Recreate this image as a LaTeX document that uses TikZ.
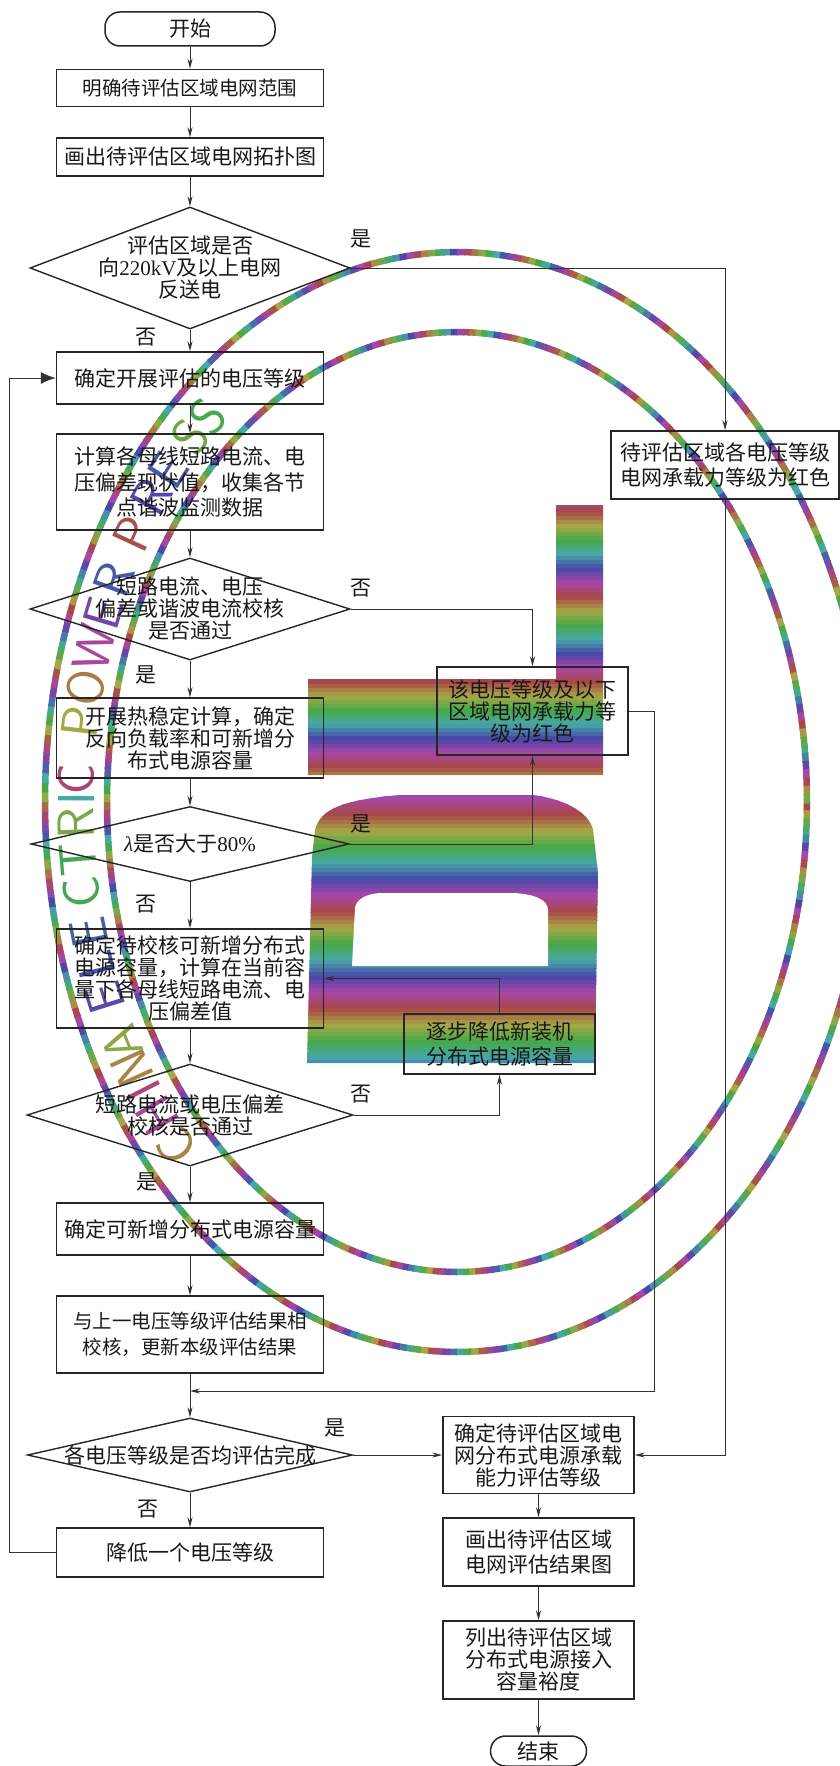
\documentclass[tikz,border=0pt]{standalone}
\usepackage{fontspec}
\setmainfont{Liberation Serif}
\newfontfamily\cjk{Noto Sans CJK SC}
\usetikzlibrary{shapes.geometric,arrows.meta}
\newcommand{\stampcolor}[2]{\convertcolorspec{hsb}{#2,0.58,0.66}{rgb}\stamprgb\definecolor{#1}{rgb}{\stamprgb}}
\tikzset{
    boxfont/.style={font=\cjk\fontsize{21}{22}\selectfont, align=center},
    loose/.style={font=\cjk\fontsize{21}{25.5}\selectfont},
    narrow/.style={font=\cjk\fontsize{19.5}{25.5}\selectfont},
    procbox/.style={draw=black!85, line width=1.5pt, rectangle, inner sep=0pt, boxfont, minimum width=267, text=black!90},
    sidebox/.style={procbox, minimum width=191},
    termbox/.style={procbox, rounded corners=15pt},
    decision/.style={draw=black!85, line width=1.4pt, diamond, inner sep=0pt},
    dtext/.style={boxfont, inner sep=0pt, text=black!90},
    yesno/.style={boxfont, inner sep=0pt, text=black!90},
    link/.style={draw=black!80, line width=1pt, ->},
}
\begin{document}
\begin{tikzpicture}[x=1pt, y=-1pt, >={Stealth[length=10pt,width=5pt]}]

    \useasboundingbox (0,0) rectangle (840,1766);

    % printed stamp behind the chart
    \begin{scope}
        \clip (0,0) rectangle (840,1766);
        \foreach \rx/\ry in {412/550,350/470}
            \foreach \a in {0,1,...,359} {
                \pgfmathsetmacro\ringhue{mod(\a*0.14,1)}
                \stampcolor{ringcol}{\ringhue}
                \draw[ringcol, line width=6.5] ({457+\rx*cos(\a)},{802+\ry*sin(\a)}) -- ({457+\rx*cos(\a+1.2)},{802+\ry*sin(\a+1.2)});
            }
    \end{scope}

    \foreach \ch/\t in {C/222.6,H/218,I/214.5,N/211.5,A/208.2,E/202.6,L/198.7,E/194.9,C/190.2,T/186.5,R/182.4,I/179.6,C/177.5,P/171,O/167,W/162.4,E/158.3,R/154.2,P/148.2,R/143.3,E/139.4,S/134.3,S/130.9} {
        \pgfmathsetmacro\rot{atan2(-510*cos(\t),381*sin(\t))}
        \pgfmathsetmacro\lethue{mod(\t*0.27,1)}
        \stampcolor{letcol}{\lethue}
        \node[text=letcol, font=\sffamily\fontsize{52}{52}\selectfont, rotate=\rot, inner sep=0pt] (stamp\t) at ({457+381*cos(\t)},{802-510*sin(\t)}) {\ch};
    }

    \begin{scope}
        \clip (308,679) -- (556,679) -- (556,505) -- (603,505) -- (603,775) -- (308,775) -- cycle
              (307,1063) -- (312,857) -- (315,830) .. controls (320,810) and (340,800) .. (400,795) -- (533,795) .. controls (570,800) and (590,815) .. (593,830) -- (598,873) -- (595,1063) -- cycle;
        \foreach \y in {500,504,...,1068} {
            \pgfmathsetmacro\bandhue{\y<785 ? mod(\y/85,1) : mod(\y/97+1.62,1)}
            \stampcolor{bandcol}{\bandhue}
            \fill[bandcol] (300,\y) rectangle (610,\y+4.5);
        }
    \end{scope}
    \fill[white] (352,966) -- (548,966) -- (548,910) .. controls (548,900) and (535,894) .. (513,893) -- (380,893) .. controls (365,894) and (356,900) .. (355,908) -- cycle;

    % left column
    \node[termbox, minimum width=170, minimum height=34] (start) at (190,29) {开始};
    \node[procbox, narrow, minimum height=37] (range) at (190,88) {明确待评估区域电网范围};
    \node[procbox, minimum height=38] (topo) at (190,157) {画出待评估区域电网拓扑图};
    \node[decision, minimum width=320, minimum height=122, label={[dtext]center:{评估区域是否\\向{\rmfamily 220kV}及以上电网\\反送电}}] (reverse) at (190,268) {};
    \node[procbox, minimum height=52] (level) at (190,378) {确定开展评估的电压等级};
    \node[procbox, loose, minimum height=96] (calc) at (190,482) {计算各母线短路电流、电\\压偏差现状值，收集各节\\点谐波监测数据};
    \node[decision, minimum width=320, minimum height=102, label={[dtext]center:{短路电流、电压\\偏差或谐波电流校核\\是否通过}}] (check) at (190,609) {};
    \node[procbox, minimum height=80] (thermal) at (190,738) {开展热稳定计算，确定\\反向负载率和可新增分\\布式电源容量};
    \node[decision, minimum width=318, minimum height=75, label={[dtext]center:{{\rmfamily\itshape λ}是否大于{\rmfamily 80\%}}}] (ratio) at (190,844) {};
    \node[procbox, minimum height=99] (trial) at (190,978.5) {确定待校核可新增分布式\\电源容量，计算在当前容\\量下各母线短路电流、电\\压偏差值};
    \node[decision, minimum width=326, minimum height=102, label={[dtext]center:{短路电流或电压偏差\\校核是否通过}}] (recheck) at (190,1115) {};
    \node[procbox, minimum height=52] (amount) at (190,1229) {确定可新增分布式电源容量};
    \node[procbox, narrow, minimum height=77] (update) at (190,1334.5) {与上一电压等级评估结果相\\校核，更新本级评估结果};
    \coordinate (merge) at (190,1391);
    \node[decision, minimum width=325, minimum height=74, label={[dtext]center:{各电压等级是否均评估完成}}] (alldone) at (190,1455) {};
    \node[procbox, minimum height=49] (lower) at (190,1552.5) {降低一个电压等级};

    % right side
    \node[sidebox, loose, minimum width=228, minimum height=68] (allred) at (725,465) {待评估区域各电压等级\\电网承载力等级为红色};
    \node[sidebox, minimum height=88] (levelred) at (532.5,711) {该电压等级及以下\\区域电网承载力等\\级为红色};
    \node[sidebox, loose, minimum height=60] (reduce) at (499.5,1044) {逐步降低新装机\\分布式电源容量};
    \node[sidebox, minimum height=77] (grade) at (538.5,1455) {确定待评估区域电\\网分布式电源承载\\能力评估等级};
    \node[sidebox, loose, minimum height=68] (result) at (538.5,1552) {画出待评估区域\\电网评估结果图};
    \node[sidebox, minimum height=78] (margin) at (538.5,1660) {列出待评估区域\\分布式电源接入\\容量裕度};
    \node[termbox, minimum width=96, minimum height=30] (finish) at (538.5,1751) {结束};

    \node[yesno] (yes1) at (361,239) {是};
    \node[yesno] (no1) at (146,337) {否};
    \node[yesno] (no2) at (361,588) {否};
    \node[yesno] (yes2) at (146,675) {是};
    \node[yesno] (yes3) at (361,824) {是};
    \node[yesno] (no3) at (146,904) {否};
    \node[yesno] (no4) at (361,1094) {否};
    \node[yesno] (yes4) at (147,1182) {是};
    \node[yesno] (yes5) at (335,1428) {是};
    \node[yesno] (no5) at (148,1509) {否};

    \draw[link] (start) -- (range);
    \draw[link] (range) -- (topo);
    \draw[link] (topo) -- (reverse);
    \draw[link] (reverse) -- (level);
    \draw[link] (level) -- (calc);
    \draw[link] (calc) -- (check);
    \draw[link] (check) -- (thermal);
    \draw[link] (thermal) -- (ratio);
    \draw[link] (ratio) -- (trial);
    \draw[link] (trial) -- (recheck);
    \draw[link] (recheck) -- (amount);
    \draw[link] (amount) -- (update);
    \draw[link] (update) -- (alldone);
    \draw[link] (alldone) -- (lower);
    \draw[link, -{Latex[length=15pt,width=12pt]}] (lower.west) -- ++(-46,0) |- (level.west);

    \draw[link] (reverse.east) -| (allred.north);
    \draw[link] (allred.south) |- (grade.east);
    \draw[link] (check.east) -| (levelred.north);
    \draw[link] (ratio.east) -| (levelred.south);
    \draw[link] (levelred.east) -- ++(26,0) |- (merge);
    \draw[link] (recheck.east) -| (reduce.south);
    \draw[link] (reduce.north) |- (trial.east);
    \draw[link] (alldone.east) -- (grade.west);
    \draw[link] (grade) -- (result);
    \draw[link] (result) -- (margin);
    \draw[link] (margin) -- (finish);

\end{tikzpicture}
\end{document}
